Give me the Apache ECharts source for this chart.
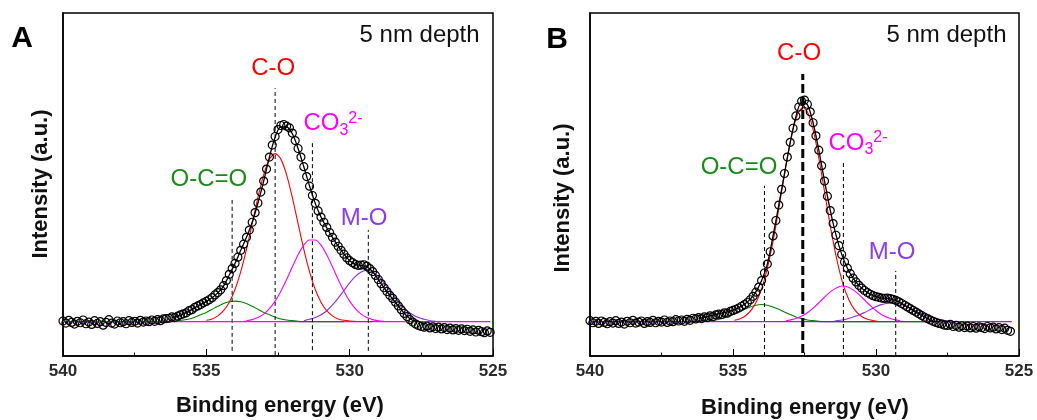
<!DOCTYPE html>
<html><head><meta charset="utf-8">
<script src="https://cdn.jsdelivr.net/npm/echarts@6/dist/echarts.min.js"></script>
<style>html,body{margin:0;padding:0;background:#fff}#c{width:1037px;height:420px}</style>
</head><body><div id="c"></div>
<script>
const FONT = '"Liberation Sans", Arial, Helvetica, sans-serif';

// ---------- shared ----------
const xTickValues = [540, 535, 530, 525];
const peakLabels = ['O-C=O', 'C-O', 'CO3 2-', 'M-O'];
const depthText = '5 nm depth';
const panelLetters = ['A', 'B'];
const xTitle = 'Binding energy (eV)';
const yTitle = 'Intensity (a.u.)';

// ---------- panel A ----------
const expStartA = 540.0, expStepA = 0.1;
const intensityA = [
  10.2, 9.6, 10.4, 9.8, 9.3, 10.1, 9.7, 10.5, 9.4, 9.9,
  9.2, 10.3, 9.5, 10.0, 9.0, 9.8, 10.6, 9.6, 9.3, 10.2,
  9.7, 10.0, 9.4, 10.3, 9.8, 10.1, 9.6, 10.4, 9.9, 10.2,
  10.0, 10.5, 10.1, 10.6, 10.3, 10.8, 10.9, 11.0, 11.4, 11.2,
  11.6, 12.0, 12.3, 12.6, 13.2, 13.5, 14.2, 14.6, 15.0, 15.5,
  15.9, 16.4, 17.0, 17.8, 18.5, 19.3, 20.5, 22.0, 23.8, 25.5,
  27.0, 28.8, 30.8, 32.6, 34.6, 36.7, 39.0, 41.8, 44.6, 47.8,
  51.0, 54.5, 58.0, 61.5, 64.0, 66.0, 67.2, 67.5, 67.0, 66.5,
  65.0, 62.8, 60.5, 58.0, 55.2, 52.3, 49.5, 46.8, 44.5, 42.3,
  40.5, 39.0, 37.5, 36.0, 34.6, 33.2, 32.0, 30.8, 29.7, 28.6,
  27.8, 27.2, 26.7, 26.4, 26.5, 26.6, 26.2, 25.5, 24.6, 23.5,
  22.3, 21.1, 19.9, 18.8, 17.7, 16.8, 15.7, 14.6, 13.5, 12.4,
  11.5, 10.6, 9.9, 9.3, 8.9, 8.6, 8.4, 8.7, 8.2, 8.5,
  8.0, 8.4, 7.9, 8.3, 7.7, 8.1, 7.6, 8.0, 7.5, 7.9,
  7.4, 7.8, 7.2, 7.6, 7.0, 7.5, 7.1, 6.8, 7.3, 6.9
];
const envelopeA = [[536.2,11.2],[536.0,11.6],[535.8,12.3],[535.6,13.1],[535.4,14.1],[535.2,15.0],[535.0,15.9],[534.8,17.0],[534.6,18.4],[534.4,20.4],[534.2,23.6],[534.0,27.0],[533.8,30.8],[533.6,34.6],[533.4,39.0],[533.2,44.6],[533.0,51.0],[532.8,58.0],[532.6,63.8],[532.4,66.8],[532.2,66.8],[532.0,64.8],[531.8,60.5],[531.6,55.2],[531.4,49.6],[531.2,44.5],[531.0,40.5],[530.8,37.4],[530.6,34.6],[530.4,32.0],[530.2,29.7],[530.0,27.8],[529.8,26.7],[529.6,26.4],[529.4,26.0],[529.2,24.6],[529.0,22.3],[528.8,19.9],[528.6,17.7],[528.4,15.6],[528.2,13.5],[528.0,11.6],[527.8,10.4],[527.6,10.1]];
const occoA = [[536.2,10.1],[536.0,10.3],[535.8,10.5],[535.6,10.8],[535.4,11.3],[535.2,12.0],[535.0,12.7],[534.8,13.6],[534.6,14.5],[534.4,15.3],[534.2,15.8],[534.0,16.0],[533.8,15.8],[533.6,15.3],[533.4,14.5],[533.2,13.6],[533.0,12.7],[532.8,12.0],[532.6,11.3],[532.4,10.8],[532.2,10.5],[532.0,10.3],[531.8,10.1],[531.6,10.0],[530.2,10.0]];
const coA = [[535.0,10.4],[534.8,10.8],[534.6,11.7],[534.4,13.2],[534.2,15.7],[534.0,19.4],[533.8,24.6],[533.6,31.1],[533.4,38.6],[533.2,46.2],[533.0,52.8],[532.8,57.4],[532.6,59.0],[532.4,57.4],[532.2,52.8],[532.0,46.2],[531.8,38.6],[531.6,31.1],[531.4,24.6],[531.2,19.4],[531.0,15.7],[530.8,13.2],[530.6,11.7],[530.4,10.8],[530.2,10.4],[530.0,10.2],[529.8,10.1],[529.2,10.0]];
const co3A = [[533.6,10.3],[533.4,10.6],[533.2,11.2],[533.0,12.2],[532.8,13.8],[532.6,16.0],[532.4,18.9],[532.2,22.3],[532.0,26.0],[531.8,29.5],[531.6,32.3],[531.4,33.8],[531.2,33.8],[531.0,32.3],[530.8,29.5],[530.6,26.0],[530.4,22.3],[530.2,18.9],[530.0,16.0],[529.8,13.8],[529.6,12.2],[529.4,11.2],[529.2,10.6],[529.0,10.3],[528.8,10.1]];
const moA = [[531.6,10.3],[531.4,10.7],[531.2,11.2],[531.0,12.0],[530.8,13.2],[530.6,14.9],[530.4,16.9],[530.2,19.1],[530.0,21.3],[529.8,23.2],[529.6,24.5],[529.4,25.0],[529.2,24.5],[529.0,23.2],[528.8,21.3],[528.6,19.1],[528.4,16.9],[528.2,14.9],[528.0,13.2],[527.8,12.0],[527.6,11.2],[527.4,10.7],[527.2,10.3],[527.0,10.1]];
const baselineA = [[540.0,10.0],[525.1,10.0]];
const peakEnergyA = [534.1, 532.6, 531.3, 529.35];

// ---------- panel B ----------
const expStartB = 540.0, expStepB = 0.1;
const intensityB = [
  10.3, 9.7, 10.1, 9.5, 10.2, 9.8, 9.4, 10.0, 9.6, 10.3,
  9.5, 9.9, 9.3, 10.1, 9.7, 10.4, 9.6, 9.9, 10.2, 9.5,
  10.0, 9.8, 10.4, 9.7, 10.1, 9.9, 10.5, 9.8, 10.2, 10.0,
  10.6, 10.2, 10.5, 10.1, 10.7, 10.4, 11.0, 10.8, 11.2, 10.9,
  11.4, 11.2, 11.7, 11.5, 12.0, 12.2, 12.1, 12.6, 12.5, 13.0,
  13.3, 13.6, 14.0, 14.5, 15.0, 15.6, 16.4, 17.4, 18.6, 20.1,
  22.0, 24.2, 26.8, 30.4, 35.0, 39.5, 44.0, 48.6, 53.2, 58.0,
  62.3, 66.4, 70.0, 72.6, 74.3, 74.6, 73.4, 71.2, 68.0, 64.2,
  60.0, 55.5, 51.0, 46.6, 42.4, 38.6, 35.2, 32.2, 29.6, 27.4,
  25.6, 24.0, 22.7, 21.6, 20.6, 19.8, 19.1, 18.5, 18.0, 17.6,
  17.3, 17.1, 16.9, 16.8, 16.9, 16.7, 16.5, 16.2, 15.8, 15.3,
  14.8, 14.3, 13.8, 13.3, 12.8, 12.3, 11.8, 11.3, 10.9, 10.5,
  10.1, 9.8, 9.5, 9.3, 9.0, 8.9, 9.2, 8.6, 8.9, 8.4,
  8.8, 8.3, 8.7, 8.2, 8.6, 8.1, 8.5, 8.3, 8.0, 8.6,
  8.2, 8.4, 7.9, 8.3, 7.7, 8.1, 7.5, 7.2
];
const envelopeB = [[536.2,11.0],[536.0,11.3],[535.8,11.7],[535.6,12.1],[535.4,12.5],[535.2,12.9],[535.0,13.4],[534.8,14.1],[534.6,15.1],[534.4,16.5],[534.2,18.7],[534.0,22.0],[533.8,26.8],[533.6,35.0],[533.4,44.0],[533.2,53.2],[533.0,62.3],[532.8,69.8],[532.6,74.0],[532.4,73.3],[532.2,68.0],[532.0,60.0],[531.8,51.0],[531.6,42.5],[531.4,35.3],[531.2,29.7],[531.0,25.6],[530.8,22.7],[530.6,20.6],[530.4,19.1],[530.2,18.0],[530.0,17.3],[529.8,16.9],[529.6,16.8],[529.4,16.4],[529.2,15.8],[529.0,14.8],[528.8,13.8],[528.6,12.8],[528.4,11.8],[528.2,10.9],[528.0,10.2],[527.8,10.0]];
const occoB = [[536.0,10.1],[535.8,10.3],[535.6,10.5],[535.4,10.9],[535.2,11.4],[535.0,12.1],[534.8,12.8],[534.6,13.6],[534.4,14.3],[534.2,14.8],[534.0,15.0],[533.8,14.8],[533.6,14.3],[533.4,13.6],[533.2,12.8],[533.0,12.1],[532.8,11.4],[532.6,10.9],[532.4,10.5],[532.2,10.3],[532.0,10.1],[531.8,10.0],[528.2,10.0]];
const coB = [[534.95,10.4],[534.75,10.85],[534.55,11.8],[534.35,13.5],[534.15,16.4],[533.95,20.9],[533.75,27.4],[533.55,35.7],[533.35,45.4],[533.15,55.4],[532.95,64.2],[532.75,70.3],[532.55,72.5],[532.35,70.3],[532.15,64.2],[531.95,55.4],[531.75,45.4],[531.55,35.7],[531.35,27.4],[531.15,20.9],[530.95,16.4],[530.75,13.5],[530.55,11.8],[530.35,10.85],[530.15,10.4],[529.95,10.15]];
const co3B = [[533.15,10.3],[532.95,10.6],[532.75,11.1],[532.55,11.8],[532.35,12.9],[532.15,14.3],[531.95,15.9],[531.75,17.55],[531.55,19.0],[531.35,20.0],[531.15,20.4],[530.95,20.0],[530.75,19.0],[530.55,17.55],[530.35,15.9],[530.15,14.3],[529.95,12.9],[529.75,11.8],[529.55,11.1],[529.35,10.6],[529.15,10.3]];
const moB = [[531.45,10.2],[531.25,10.4],[531.05,10.7],[530.85,11.2],[530.65,11.8],[530.45,12.5],[530.25,13.3],[530.05,14.2],[529.85,14.9],[529.65,15.3],[529.45,15.5],[529.25,15.3],[529.05,14.9],[528.85,14.2],[528.65,13.3],[528.45,12.5],[528.25,11.8],[528.05,11.2],[527.85,10.7],[527.65,10.4],[527.45,10.2]];
const baselineB = [[540.0,10.0],[525.25,10.0]];
const peakEnergyB = [533.9, 532.56, 531.14, 529.31];

// ---------- layout / style (not data) ----------
const COL = {green:'#008000', red:'#ff0000', magenta:'#ff00ff', purple:'#8a2be2',
             greenT:'#1a8a1a', redT:'#ff0000', magT:'#ff00ff', purT:'#8a3cf0'};
const layout = [
  { grid:{left:63, right:544, top:13, bottom:64},
    dashTop:[45.5, 78.1, 62.1, 36.7], dashBot:[1.5, 0.3, 1.7, 1.5], dashWide:[false,false,false,false],
    lbl:[[534.91,51.6],[532.67,84.0],[531.63,67.9],[529.5,40.2]], depth:[525.45,93.6],
    letter:[22,39], ytitle:[41,184], xtitle:[280,406], baseColor:COL.magenta },
  { grid:{left:590, right:18, top:13, bottom:64},
    dashTop:[49.6, 82.2, 56.3, 24.8], dashBot:[0, 0.9, 0, 0], dashWide:[false,true,false,false],
    lbl:[[534.79,55.1],[532.69,88.3],[531.68,62.1],[529.44,30.3]], depth:[525.42,93.6],
    letter:[557,40], ytitle:[563,198], xtitle:[805,408], baseColor:COL.purple }
];
const panels = [
  {start:expStartA, step:expStepA, y:intensityA, env:envelopeA, comps:[occoA,coA,co3A,moA], base:baselineA, peaks:peakEnergyA},
  {start:expStartB, step:expStepB, y:intensityB, env:envelopeB, comps:[occoB,coB,co3B,moB], base:baselineB, peaks:peakEnergyB}
];
const compColors = [COL.green, COL.red, COL.magenta, COL.purple];
const labelColors = [COL.greenT, COL.redT, COL.magT, COL.purT];

const grids = [], xAxes = [], yAxes = [], series = [], graphics = [];
panels.forEach((p, k) => {
  const L = layout[k];
  grids.push(Object.assign({show:true, borderColor:'#000', borderWidth:1.5, backgroundColor:'transparent'}, L.grid));
  xAxes.push({gridIndex:k, type:'value', inverse:true, min:xTickValues[3], max:xTickValues[0], interval:5,
    axisLine:{show:true, onZero:false, lineStyle:{color:'#000', width:1.5}},
    axisTick:{show:true, inside:true, length:7, lineStyle:{color:'#000', width:1}},
    minorTick:{show:true, splitNumber:2, length:3.5, lineStyle:{color:'#000', width:1}},
    splitLine:{show:false}, minorSplitLine:{show:false},
    axisLabel:{fontFamily:FONT, fontSize:17, fontWeight:'bold', color:'#2a2a2a', margin:7, showMinLabel:true, showMaxLabel:true}
  });
  yAxes.push({gridIndex:k, type:'value', min:0, max:100,
    axisLine:{show:true, onZero:false, lineStyle:{color:'#000', width:1.5}},
    axisTick:{show:false}, axisLabel:{show:false}, splitLine:{show:false}});
  const common = {xAxisIndex:k, yAxisIndex:k, silent:true, animation:false};
  series.push(Object.assign({type:'line', data:p.base, symbol:'none', lineStyle:{color:L.baseColor, width:1.2}, z:2}, common));
  p.comps.forEach((c, i) => {
    series.push(Object.assign({type:'line', data:c, symbol:'none', smooth:0.3,
      lineStyle:{color:compColors[i], width:1.1}, z:3}, common));
  });
  series.push(Object.assign({type:'line', data:p.env, symbol:'none', smooth:0.3,
    lineStyle:{color:'#000', width:1.3}, z:4}, common));
  p.peaks.forEach((e, i) => {
    const wide = L.dashWide[i];
    series.push(Object.assign({type:'line', data:[[e, L.dashBot[i]],[e, L.dashTop[i]]], symbol:'none',
      lineStyle:{color:'#000', width: wide ? 3 : 1, type: wide ? [9,4] : [4,3]}, z:5}, common));
  });
  series.push(Object.assign({type:'scatter', symbol:'circle', symbolSize:8,
    data:p.y.map((v, i) => [+(p.start - i * p.step).toFixed(2), v]),
    itemStyle:{color:'rgba(255,255,255,0)', borderColor:'#000', borderWidth:1.2, opacity:1}, z:6}, common));
  // annotations
  const lblData = peakLabels.map((t, i) => {
    if (i === 2) {
      return {value:L.lbl[i], label:{show:true, position:'right', distance:0,
        formatter:'{a|CO}{b|3}{c|2-}',
        rich:{a:{fontFamily:FONT, fontSize:24, color:labelColors[i], lineHeight:30, verticalAlign:'middle'},
              b:{fontFamily:FONT, fontSize:16, color:labelColors[i], lineHeight:16, verticalAlign:'bottom'},
              c:{fontFamily:FONT, fontSize:16, color:labelColors[i], lineHeight:16, verticalAlign:'top', padding:[2,0,0,0]}}}};
    }
    return {value:L.lbl[i], label:{show:true, position:'inside', formatter:t,
      fontFamily:FONT, fontSize:24, color:labelColors[i]}};
  });
  lblData.push({value:L.depth, label:{show:true, position:'left', distance:0, formatter:depthText,
    fontFamily:FONT, fontSize:24, color:'#111'}});
  series.push(Object.assign({type:'scatter', symbolSize:1, itemStyle:{color:'rgba(0,0,0,0)', opacity:1},
    data:lblData, z:10}, common));
  graphics.push({type:'text', x:L.letter[0], y:L.letter[1],
    style:{text:panelLetters[k], font:'bold 30px ' + FONT, fill:'#000', align:'center', verticalAlign:'middle'}});
  graphics.push({type:'text', x:L.ytitle[0], y:L.ytitle[1], rotation:Math.PI/2,
    style:{text:yTitle, font:'bold 22px ' + FONT, fill:'#111', align:'center', verticalAlign:'middle'}});
  graphics.push({type:'text', x:L.xtitle[0], y:L.xtitle[1],
    style:{text:xTitle, font:'bold 22px ' + FONT, fill:'#111', align:'center', verticalAlign:'middle'}});
});

const chart = echarts.init(document.getElementById('c'), null, {renderer:'canvas'});
chart.setOption({animation:false, backgroundColor:'#fff', grid:grids, xAxis:xAxes, yAxis:yAxes, series:series, graphic:graphics});
</script></body></html>
